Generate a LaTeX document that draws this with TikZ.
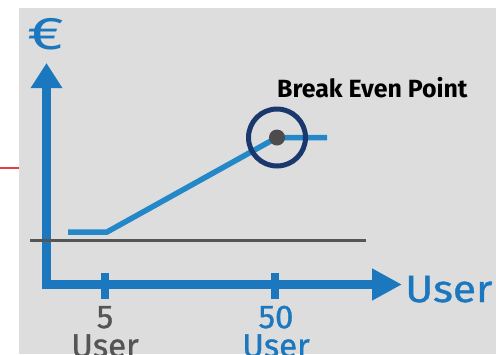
\documentclass[tikz,border=0pt]{standalone}
\usepackage{graphicx}
\usepackage{fontspec}
\setmainfont{Fira Sans}
\newfontfamily\mediumfont{Fira Sans}[FakeBold=1]
\usetikzlibrary{arrows.meta}
\definecolor{panel}{RGB}{221,221,221}
\definecolor{axisblue}{RGB}{27,120,190}
\definecolor{lineblue}{RGB}{36,136,200}
\definecolor{navy}{RGB}{26,56,110}
\definecolor{darkgrey}{RGB}{85,85,85}
\definecolor{accentred}{RGB}{228,62,62}
\tikzset{
  axisline/.style={draw=axisblue, line width=8.5bp},
  tickmark/.style={draw=axisblue, line width=8bp},
  costline/.style={draw=lineblue, line width=5.5bp},
  lbl/.style={inner sep=0pt, anchor=base, align=center,
    font=\mediumfont\fontsize{33}{29}\selectfont},
}
\begin{document}
\begin{tikzpicture}[x=1bp, y=-1bp]
  % page frame: white margin above and to the left of the grey panel
  \fill[white] (0,0) rectangle (496,354);
  \fill[panel] (19,8) rectangle (496,354);
  \useasboundingbox (0,0) rectangle (496,354);
  \draw[accentred, line width=1.5bp] (0,168) -- (19,168);

  % axes
  \coordinate (ytop) at (46.5,63);
  \coordinate (xend) at (402,284.5);
  \draw[axisline, -{Triangle[length=25bp, width=30bp]}] (46.5,288.75) -- (ytop);
  \draw[axisline, -{Triangle[length=30bp, width=30bp]}] (42.25,284.5) -- (xend);

  % tick marks
  \draw[tickmark] (105,273) -- (105,299);
  \draw[tickmark] (275,273) -- (275,299);

  % break-even reference level
  \coordinate (g1) at (30,240.5);
  \coordinate (g2) at (366,240.5);
  \draw[darkgrey, line width=2.5bp] (g1) -- (g2);

  % cost curve
  \coordinate (c0) at (68,232);
  \coordinate (c1) at (107,232);
  \coordinate (bep) at (277,137.5);
  \coordinate (c3) at (327,137.5);
  \draw[costline] (c0) -- (c1) -- (bep) -- (c3);

  % break-even marker
  \draw[navy, line width=5bp] (bep) circle (28.5);
  \fill[darkgrey!90!black] (bep) circle (8);
  \node[anchor=base west, inner sep=0pt, font=\bfseries\fontsize{25}{25}\selectfont]
    (beplabel) at (277,97) {Break Even Point};

  % axis labels
  \node[anchor=north west, inner sep=0pt, text=axisblue,
        font=\fontsize{46}{46}\selectfont] (euro) at (27,18) {\scalebox{1.4}[1]{€}};
  \node[anchor=base west, inner sep=0pt, text=axisblue,
        font=\mediumfont\fontsize{38}{38}\selectfont] (xlabel) at (405,302)
    {\scalebox{1.12}[1]{User}};

  % tick labels
  \node[lbl, text=darkgrey] (l5) at (105,357) {5\\User};
  \node[lbl, text=axisblue] (l50) at (276,357) {50\\User};
\end{tikzpicture}
\end{document}
